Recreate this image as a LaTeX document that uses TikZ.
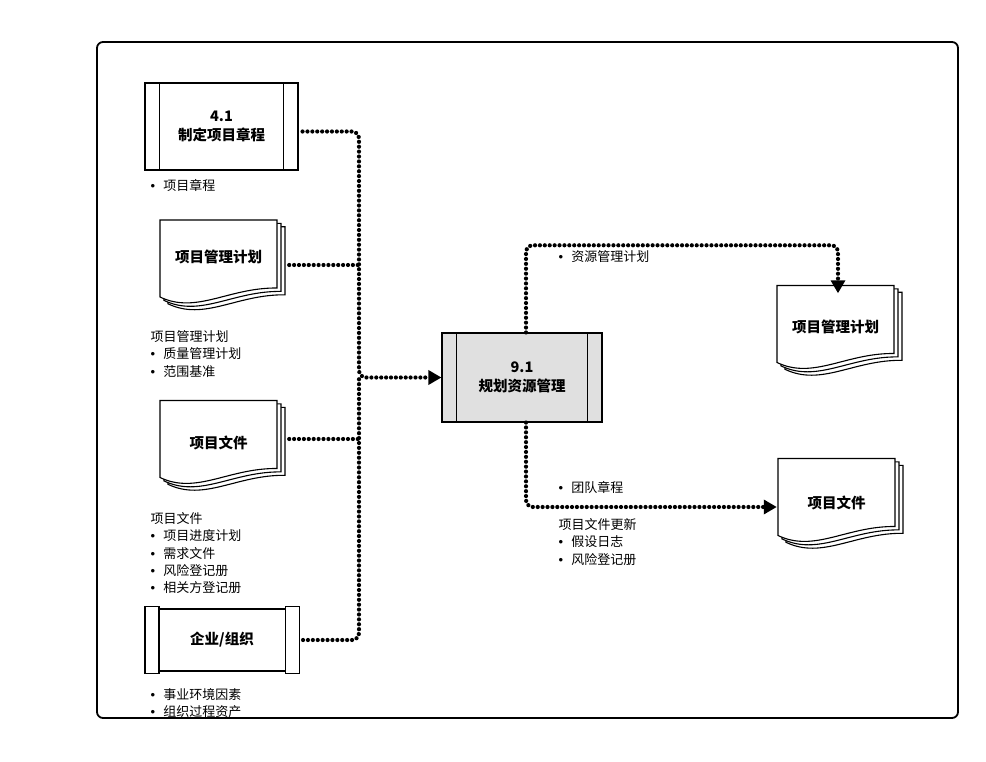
\documentclass[tikz,border=0pt]{standalone}
\usepackage{fontspec}
\setmainfont{Noto Sans CJK SC}
\newfontfamily\bulletfont{Liberation Sans}
\usetikzlibrary{arrows.meta}

\newcommand{\bul}{{\bulletfont •}\hspace{8pt}}

\tikzset{
  boxline/.style={line width=1.1pt},
  procbox/.style={rectangle,draw,boxline,minimum width=153,minimum height=87,align=center,
    inner sep=0pt,font=\fontsize{14.5}{19}\selectfont\bfseries},
  docbox/.style={rectangle,minimum width=117,minimum height=60,align=center,
    inner sep=0pt,font=\fontsize{14.5}{19}\selectfont\bfseries},
  pageline/.style={boxline,fill=white},
  listtext/.style={anchor=north west,align=left,inner sep=0pt,font=\fontsize{13}{17.2}\selectfont},
  dotline/.style={line width=4.2pt,dash pattern=on 0pt off 4.9pt,line cap=round,rounded corners=7},
  flowtip/.style={-{Triangle[length=13pt,width=14pt]}},
}

% stack of three pages, #1,#2 = centre of the front page
\newcommand{\docpages}[2]{%
  \foreach \o in {8,4,0}{%
    \draw[pageline] ({#1-58.5+\o},{#2-38.5+0.85*\o}) -- ({#1+58.5+\o},{#2-38.5+0.85*\o})
      -- ({#1+58.5+\o},{#2+29.5+0.85*\o})
      .. controls ({#1+10+\o},{#2+29+0.85*\o}) and ({#1-22+\o},{#2+56+0.85*\o})
      .. ({#1-58.5+\o},{#2+38.5+0.85*\o}) -- cycle;}}

% inner side lines of a process box
\newcommand{\sidebars}[2]{%
  \draw[boxline] ([xshift=#2]#1.north west) -- ([xshift=#2]#1.south west);
  \draw[boxline] ([xshift=-#2]#1.north east) -- ([xshift=-#2]#1.south east);}

\begin{document}
\begin{tikzpicture}[x=1pt,y=-1pt]
	\useasboundingbox (0,0) rectangle (986,762);
	\draw[line width=1.8pt,rounded corners=6] (97,42) rectangle (958,718);

	% inputs
	\node[procbox] (charter) at (221.5,126.5) {4.1\\制定项目章程};
	\sidebars{charter}{15pt}
	\node[listtext] (chlist) at (150.5,179.5) {\bul 项目章程};

	\docpages{218.5}{258.5}
	\node[docbox] (pmp) at (218.5,257) {项目管理计划};
	\node[listtext] (pmplist) at (150.5,330.5) {项目管理计划\\\bul 质量管理计划\\\bul 范围基准};

	\docpages{218.5}{439}
	\node[docbox] (pdoc) at (218.5,443) {项目文件};
	\node[listtext] (pdoclist) at (150.5,512.5) {项目文件\\\bul 项目进度计划\\\bul 需求文件\\\bul 风险登记册\\\bul 相关方登记册};

	\node[procbox,minimum height=62] (org) at (222,640) {企业/组织};
	\draw[boxline,fill=white] ([shift={(0,-2)}]org.north west) rectangle ([shift={(14,2)}]org.south west);
	\draw[boxline,fill=white] ([shift={(0,-2)}]org.north east) rectangle ([shift={(-14,2)}]org.south east);
	\node[listtext] (orglist) at (150.5,688.5) {\bul 事业环境因素\\\bul 组织过程资产};

	% process
	\node[procbox,fill=black!12,minimum width=160,minimum height=89] (plan) at (522,377.5) {9.1\\规划资源管理};
	\sidebars{plan}{15pt}

	% outputs
	\docpages{835.5}{324}
	\node[docbox] (rpmp) at (835.5,327) {项目管理计划};
	\node[listtext] (rpmplist) at (558.5,250.5) {\bul 资源管理计划};

	\docpages{836.5}{497}
	\node[docbox] (rdoc) at (836.5,503) {项目文件};
	\node[listtext] (teamlist) at (558.5,481.5) {\bul 团队章程};
	\node[listtext] (rdoclist) at (558.5,518.5) {项目文件更新\\\bul 假设日志\\\bul 风险登记册};

	% connectors
	\coordinate (hub) at (359,377.5);
	\coordinate (jpmp) at (359,265);
	\coordinate (jpdoc) at (359,439);
	\draw[dotline,flowtip] ([shift={(4,5)}]charter.east) -| (hub) -- (plan.west);
	\draw[dotline] ([shift={(12,8)}]pmp.east) -- (jpmp);
	\draw[dotline] ([shift={(12,-4)}]pdoc.east) -- (jpdoc);
	\draw[dotline] ([shift={(4,0)}]org.east) -| (hub);
	\draw[dotline,flowtip] ([shift={(4,0)}]plan.north) |- ([shift={(2.5,-51.5)}]rpmp.north) -- ([shift={(2.5,-3.5)}]rpmp.north);
	\draw[dotline,flowtip] ([shift={(4,0)}]plan.south) |- ([shift={(-1,4)}]rdoc.west);
\end{tikzpicture}
\end{document}
